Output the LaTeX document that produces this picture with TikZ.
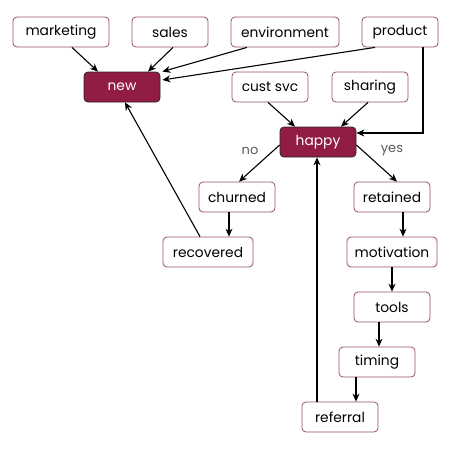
\documentclass[tikz,border=0pt]{standalone}
\usepackage{fontspec}
\setmainfont{Poppins}
\usetikzlibrary{arrows.meta,calc}
\definecolor{maroon}{RGB}{145,30,66}
\definecolor{edgec}{RGB}{150,80,104}
\definecolor{lab}{RGB}{90,90,90}
\begin{document}
\begin{tikzpicture}[x=1pt,y=-1pt,
  box/.style={draw=edgec,line width=0.8pt,rounded corners=4pt,fill=white,
    minimum width=76pt,minimum height=30pt,inner xsep=3pt,font=\fontsize{13.8}{15}\selectfont},
  hot/.style={box,draw=black!85,fill=maroon,text=white},
  arr/.style={line width=1.1pt,-{Stealth[length=8pt,width=7pt]}},
  lbl/.style={text=lab,font=\fontsize{13}{15}\selectfont}]
\useasboundingbox (0,0) rectangle (450,450);
\node[box,minimum width=96pt] (marketing) at (61,32) {marketing};
\node[box] (sales) at (170,32) {sales};
\node[box,minimum width=108pt] (environment) at (285,32) {environment};
\node[box] (product) at (400,32) {product};
\node[hot] (new) at (122,87) {new};
\node[box] (custsvc) at (270,87) {cust svc};
\node[box] (sharing) at (370,87) {sharing};
\node[hot] (happy) at (318,142) {happy};
\node[box] (churned) at (237,197) {churned};
\node[box] (retained) at (392,197) {retained};
\node[box,minimum width=90pt] (recovered) at (208,252) {recovered};
\node[box,minimum width=90pt] (motivation) at (392,252) {motivation};
\node[box] (tools) at (392,307) {tools};
\node[box] (timing) at (377,362) {timing};
\node[box] (referral) at (340,417) {referral};
\node[lbl] (no) at (250,151) {no};
\node[lbl] (yes) at (392,151) {yes};

\draw[arr] ([xshift=11pt]marketing.south) -- ([xshift=-24pt]new.north);
\draw[arr] ([xshift=3pt]sales.south) -- ([xshift=26pt]new.north);
\draw[arr] ([xshift=-38pt]environment.south) -- ([xshift=2pt]new.north east);
\draw[arr] ([xshift=-25pt]product.south) -- ([xshift=2pt,yshift=7pt]new.east);
\draw[arr] ([xshift=23pt]product.south) |- ([yshift=9pt]happy.east);
\draw[arr] ([xshift=-2pt]custsvc.south) -- ([xshift=-23pt]happy.north);
\draw[arr] ([xshift=-2pt]sharing.south) -- ([xshift=23pt]happy.north);
\draw[arr] ([yshift=-3pt]happy.west) -- ([xshift=2pt]churned.north);
\draw[arr] ([yshift=-3pt]happy.east) -- ([xshift=5pt]retained.north);
\draw[arr] ([xshift=-8pt]churned.south) -- ([xshift=-8pt]churned.south |- recovered.north);
\draw[arr] ([xshift=-8pt]recovered.north) -- ([xshift=3pt]new.south);
\draw[arr] ([xshift=11pt]retained.south) -- ([xshift=11pt]retained.south |- motivation.north);
\draw[arr] (motivation.south) -- (tools.north);
\draw[arr] ([xshift=-13pt]tools.south) -- ([xshift=-13pt]tools.south |- timing.north);
\draw[arr] ([xshift=-21pt]timing.south) -- ([xshift=-21pt]timing.south |- referral.north);
\draw[arr] ([xshift=-23pt]referral.north) -- ([xshift=-23pt]referral.north |- happy.south);
\end{tikzpicture}
\end{document}
